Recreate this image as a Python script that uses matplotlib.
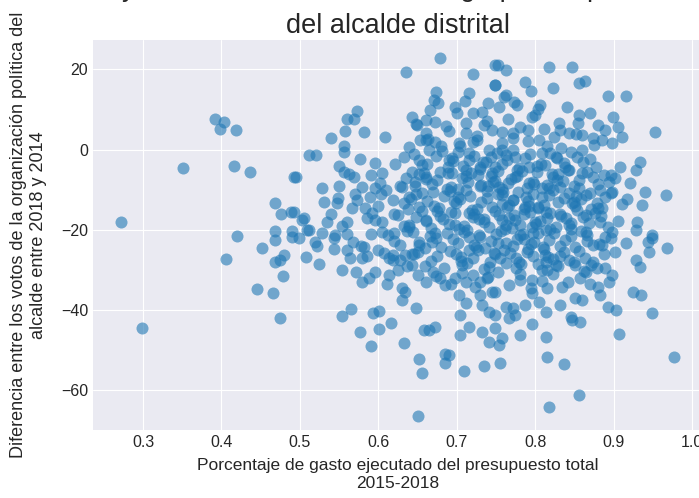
import numpy as np
import matplotlib
matplotlib.use("Agg")
from matplotlib import pyplot as plt

# Puntos: porcentaje de gasto ejecutado (x) y diferencia de votos (y)
gasto_aislados = [
    0.392, 0.403, 0.398, 0.419, 0.351, 0.416, 0.436, 0.493, 0.272, 0.468, 0.476, 0.489,
    0.420, 0.468, 0.490, 0.468, 0.451, 0.406, 0.480, 0.468, 0.474, 0.479, 0.445, 0.466,
    0.474, 0.299, 0.490,
]
votos_aislados = [
    7.6, 6.8, 5.1, 4.9, -4.6, -4.1, -5.6, -6.9, -18.1, -13.3, -16.1, -15.6,
    -21.5, -20.3, -20.3, -22.5, -24.5, -27.3, -26.3, -28.0, -27.5, -31.5, -34.7, -35.7,
    -41.9, -44.5, -21.8,
]

gasto_medio = [
    0.678, 0.635, 0.748, 0.721, 0.748, 0.674, 0.671, 0.676, 0.716, 0.666, 0.573, 0.569,
    0.560, 0.643, 0.649, 0.660, 0.672, 0.732, 0.720, 0.711, 0.558, 0.540, 0.582, 0.609,
    0.556, 0.556, 0.512, 0.521, 0.495, 0.528, 0.547, 0.550, 0.556, 0.577, 0.596, 0.569,
    0.590, 0.602, 0.605, 0.579, 0.573, 0.583, 0.595, 0.560, 0.503, 0.509, 0.493, 0.528,
    0.545, 0.592, 0.605, 0.639, 0.633, 0.630, 0.643, 0.653, 0.660, 0.672, 0.665, 0.652,
    0.658, 0.647, 0.669, 0.639, 0.652, 0.660, 0.639, 0.620, 0.690, 0.703, 0.711, 0.726,
    0.741, 0.716, 0.694, 0.711, 0.729, 0.745,
    0.540, 0.560, 0.585, 0.600, 0.610, 0.570, 0.530, 0.550, 0.590, 0.620, 0.635, 0.600,
    0.625, 0.645, 0.560, 0.505, 0.512, 0.522, 0.534, 0.543,
    0.553, 0.566, 0.578, 0.589, 0.604, 0.613, 0.627, 0.638, 0.571, 0.596, 0.621, 0.586,
    0.611, 0.563, 0.634, 0.548,
]
votos_medio = [
    22.8, 19.3, 21.0, 18.8, 16.1, 14.3, 12.3, 11.6, 14.1, 9.8, 9.6, 7.6,
    7.6, 8.1, 6.1, 7.3, 6.8, 9.3, 9.1, 6.6, 4.6, 2.9, 4.4, 3.1,
    0.9, -0.6, -1.4, -1.4, -6.9, -9.6, -13.3, -4.1, -5.6, -2.4, -3.4, -6.9,
    -6.4, -8.3, -5.9, -9.3, -12.6, -14.6, -9.6, -18.1, -17.6, -20.1, -15.6, -20.8,
    -21.3, -15.8, -18.1, 0.6, -1.9, -9.3, -5.6, 2.4, 2.4, 1.9, -0.1, -2.6,
    -5.9, -8.1, -10.6, -11.8, -14.3, -17.6, -19.3, -20.8, -2.6, 1.6, 4.1, 2.4,
    -0.1, -0.9, -5.9, -5.1, -4.4, -5.9,
    -16.0, -21.0, -17.0, -14.0, -10.0, -11.0, -13.0, -9.0, -21.0, -16.0, -7.0, -25.0,
    -30.0, -26.0, -25.0, -17.0, -20.0, -24.0, -18.0, -22.0,
    -19.0, -14.5, -24.0, -11.8, -20.5, -27.0, -9.0, -14.8, -30.5, -17.5, -3.5, -26.5,
    -33.5, -6.0, -35.5, -12.0,
]

gasto_derecha = [
    0.818, 0.847, 0.762, 0.752, 0.787, 0.822, 0.856, 0.863, 0.749, 0.892, 0.915, 0.762,
    0.773, 0.777, 0.754, 0.806, 0.796, 0.855, 0.899, 0.854, 0.953, 0.889, 0.911, 0.898,
    0.885, 0.873, 0.860, 0.843, 0.831, 0.824, 0.805, 0.790, 0.771, 0.758, 0.859, 0.933,
    0.928, 0.908, 0.920, 0.888, 0.896, 0.940, 0.966, 0.917, 0.936, 0.896, 0.870, 0.860,
    0.843, 0.856, 0.822, 0.831, 0.809, 0.930, 0.949, 0.928, 0.898, 0.882, 0.885, 0.864,
    0.847, 0.819, 0.787, 0.771, 0.754, 0.774, 0.792, 0.774, 0.758, 0.809, 0.826, 0.838,
    0.749, 0.758, 0.796, 0.843, 0.864,
    0.690, 0.700, 0.720, 0.735, 0.740, 0.765, 0.780, 0.800, 0.815, 0.830, 0.840, 0.870,
    0.880, 0.905, 0.760, 0.795, 0.710, 0.660, 0.680,
    0.663, 0.686, 0.704, 0.726, 0.739, 0.758, 0.772, 0.790, 0.811, 0.833, 0.852, 0.875,
    0.648, 0.697, 0.745, 0.803,
]
votos_derecha = [
    20.5, 20.5, 19.8, 21.0, 16.8, 15.3, 16.6, 17.1, 16.1, 13.3, 13.3, 13.6,
    11.8, 11.1, 10.6, 11.1, 8.1, 8.6, 8.1, 6.6, 4.4, 4.9, 3.1, 1.6,
    2.4, 2.9, 3.6, 4.1, 4.9, 3.1, 2.4, 4.9, 2.9, 4.4, -0.1, -3.1,
    -5.1, -4.4, -8.3, -6.4, -6.4, -10.6, -11.3, -12.3, -13.8, -10.8, -10.8, -5.9,
    -5.1, -7.6, -6.9, -9.3, -11.8, -18.1, -21.3, -20.1, -20.6, -18.1, -14.6, -16.3,
    -13.3, -15.8, -14.3, -12.6, -9.3, -6.9, -4.4, -1.9, -0.1, -0.9, -1.9, -4.4,
    -4.4, -17.6, -19.3, -18.8, -20.6,
    4.5, 9.0, 2.0, 6.0, 11.5, 7.5, 5.5, 8.5, 1.0, 6.5, 10.5, 9.0,
    6.0, 5.5, 13.0, 14.5, 12.0, 4.0, 1.0,
    2.6, 5.8, 0.8, 3.4, 7.2, 1.6, 4.2, 2.2, 5.0, 0.4, 3.8, 1.2,
    6.4, 10.6, 4.8, 10.0,
]

gasto_bajo = [
    0.651, 0.656, 0.652, 0.709, 0.735, 0.685, 0.690, 0.685, 0.591, 0.633, 0.577, 0.601,
    0.616, 0.553, 0.565, 0.593, 0.601, 0.648, 0.658, 0.665, 0.672, 0.630, 0.630, 0.579,
    0.588, 0.596, 0.554, 0.524, 0.508, 0.544, 0.519, 0.499, 0.564, 0.579, 0.567, 0.582,
    0.618, 0.614, 0.607, 0.634, 0.643, 0.652, 0.669, 0.685, 0.711, 0.704, 0.704, 0.716,
    0.732, 0.749, 0.732, 0.741, 0.703, 0.729, 0.745, 0.729, 0.741, 0.720, 0.698, 0.678,
    0.660,
    0.818, 0.856, 0.977, 0.837, 0.815, 0.813, 0.907, 0.949, 0.847, 0.857, 0.845, 0.796,
    0.780, 0.755, 0.754, 0.758, 0.767, 0.774, 0.787, 0.813, 0.831, 0.850, 0.860, 0.892,
    0.903, 0.882, 0.880, 0.924, 0.934, 0.968, 0.949, 0.943, 0.928, 0.933, 0.945, 0.902,
    0.898, 0.894, 0.834, 0.815, 0.796, 0.771, 0.762, 0.749, 0.796, 0.805, 0.864, 0.873,
    0.851, 0.826, 0.815, 0.749, 0.889, 0.885,
]
votos_bajo = [
    -66.4, -55.6, -52.2, -55.2, -53.9, -53.2, -51.2, -50.9, -48.9, -48.2, -45.5, -44.7,
    -43.2, -41.5, -39.7, -40.7, -40.2, -39.5, -45.0, -45.0, -44.2, -37.5, -34.5, -33.0,
    -32.0, -30.5, -30.0, -28.5, -26.8, -24.8, -23.0, -22.0, -27.0, -27.0, -23.0, -24.3,
    -27.5, -31.3, -25.8, -26.3, -28.8, -23.8, -30.5, -33.7, -38.2, -41.2, -46.2, -44.2,
    -45.5, -44.5, -38.7, -40.5, -36.2, -36.2, -35.5, -33.0, -48.0, -31.3, -32.0, -32.0,
    -33.0,
    -64.1, -61.1, -51.7, -53.4, -51.7, -46.7, -46.0, -40.7, -42.5, -43.0, -41.7, -43.5,
    -46.2, -53.2, -48.7, -47.0, -42.0, -41.2, -38.7, -40.5, -38.7, -37.0, -37.5, -39.2,
    -40.0, -36.2, -34.2, -35.5, -36.2, -24.5, -22.0, -23.0, -27.5, -29.3, -25.5, -25.5,
    -31.3, -33.0, -34.2, -34.5, -32.5, -39.5, -39.2, -41.2, -35.7, -38.0, -30.5, -28.0,
    -28.8, -28.8, -30.0, -35.5, -29.5, -23.8,
]

# Nucleo denso del grafico (0.64 - 0.92, -38 a 0)
gasto_nucleo = [
    0.645, 0.662, 0.681, 0.695, 0.708, 0.722, 0.737, 0.751, 0.764, 0.779, 0.793, 0.812, 0.828, 0.845, 0.861, 0.877,
    0.652, 0.668, 0.679, 0.693, 0.706, 0.718, 0.731, 0.744, 0.757, 0.769, 0.783, 0.797, 0.808, 0.821, 0.835, 0.849, 0.866, 0.880, 0.902,
    0.641, 0.655, 0.671, 0.684, 0.699, 0.711, 0.726, 0.739, 0.752, 0.766, 0.778, 0.791, 0.804, 0.817, 0.829, 0.843, 0.858, 0.871, 0.889, 0.911, 0.618, 0.603,
    0.625, 0.639, 0.656, 0.667, 0.682, 0.697, 0.709, 0.721, 0.734, 0.748, 0.761, 0.774, 0.786, 0.801, 0.813, 0.826, 0.839, 0.853, 0.868, 0.884, 0.905,
    0.612, 0.628, 0.644, 0.659, 0.673, 0.688, 0.702, 0.716, 0.729, 0.743, 0.756, 0.771, 0.784, 0.798, 0.811, 0.824, 0.838, 0.851, 0.866, 0.881, 0.896,
    0.618, 0.636, 0.651, 0.667, 0.683, 0.699, 0.713, 0.727, 0.741, 0.755, 0.768, 0.782, 0.797, 0.809, 0.822, 0.836, 0.849, 0.863, 0.878,
    0.674, 0.692, 0.707, 0.723, 0.738, 0.752, 0.767, 0.781, 0.794, 0.808, 0.823, 0.842, 0.857,
    0.655, 0.673, 0.689, 0.702, 0.715, 0.729, 0.744, 0.758, 0.771, 0.787, 0.802, 0.819, 0.836, 0.853, 0.870,
    0.646, 0.660, 0.675, 0.689, 0.702, 0.714, 0.727, 0.740, 0.753, 0.765, 0.776, 0.789, 0.802, 0.815, 0.829, 0.842, 0.856, 0.873, 0.894,
    0.632, 0.648, 0.662, 0.677, 0.691, 0.704, 0.717, 0.731, 0.745, 0.759, 0.772, 0.785, 0.797, 0.811, 0.823, 0.836, 0.851, 0.864, 0.879, 0.898,
    0.632, 0.648, 0.661, 0.675, 0.690, 0.703, 0.715, 0.728, 0.741, 0.754, 0.767, 0.780, 0.793, 0.806, 0.819, 0.832, 0.846, 0.861, 0.876, 0.893,
    0.620, 0.636, 0.652, 0.666, 0.680, 0.695, 0.709, 0.722, 0.736, 0.750, 0.763, 0.777, 0.791, 0.804, 0.817, 0.831, 0.845, 0.858, 0.873, 0.889,
    0.627, 0.643, 0.659, 0.675, 0.691, 0.706, 0.720, 0.734, 0.748, 0.762, 0.775, 0.789, 0.803, 0.816, 0.829, 0.843, 0.856, 0.871,
    0.694, 0.712, 0.733, 0.749, 0.763, 0.776, 0.792, 0.807, 0.701, 0.719, 0.738, 0.757, 0.773, 0.788, 0.803, 0.818,
    0.697, 0.716, 0.735, 0.753, 0.770, 0.785, 0.799, 0.814, 0.705, 0.724, 0.742, 0.760, 0.779, 0.795, 0.812,
    0.661, 0.678, 0.696, 0.713, 0.730, 0.747, 0.764, 0.781, 0.798, 0.815, 0.832, 0.849, 0.866, 0.883,
    0.668, 0.687, 0.705, 0.722, 0.740, 0.757, 0.775, 0.792, 0.810, 0.827, 0.845, 0.862, 0.880, 0.915,
    0.650, 0.672, 0.693, 0.711, 0.728, 0.746, 0.763, 0.780, 0.797, 0.814, 0.833, 0.852, 0.870, 0.887,
]
votos_nucleo = [
    -1.2, -3.5, -0.4, -2.8, -4.1, -1.7, -3.2, -0.8, -2.5, -4.6, -1.1, -3.8, -2.2, -0.5, -3.0, -4.4,
    -6.2, -8.7, -5.5, -9.4, -7.1, -5.8, -8.9, -6.6, -9.8, -7.4, -5.3, -8.2, -9.6, -6.0, -7.9, -9.1, -5.7, -8.5, -7.0,
    -12.4, -10.8, -14.1, -11.6, -13.3, -10.2, -14.7, -12.0, -11.1, -13.9, -10.5, -12.8, -14.4, -11.3, -13.0, -10.9, -12.2, -14.9, -11.8, -13.6, -12.5, -11.0,
    -16.3, -18.8, -15.4, -19.5, -17.2, -15.9, -19.1, -16.8, -18.0, -15.2, -19.8, -17.5, -16.1, -18.6, -15.6, -19.3, -17.0, -15.1, -18.3, -16.6, -17.7,
    -21.4, -23.8, -20.6, -24.5, -22.1, -20.9, -23.4, -24.9, -21.7, -22.9, -20.3, -24.1, -21.0, -23.1, -24.7, -20.8, -22.5, -24.2, -21.2, -23.6, -22.0,
    -26.2, -28.9, -25.5, -27.7, -29.6, -26.0, -28.3, -25.1, -29.2, -27.0, -25.8, -28.6, -26.6, -29.9, -27.3, -25.4, -28.0, -26.9, -29.4,
    -31.6, -33.4, -30.8, -34.2, -32.0, -30.4, -33.8, -31.1, -34.6, -32.7, -30.9, -33.1, -31.9,
    -3.9, -1.5, -4.3, -0.6, -2.7, -4.8, -1.9, -3.6, -0.2, -2.1, -4.0, -0.9, -3.3, -1.8, -2.4,
    -9.0, -6.9, -7.7, -5.9, -9.9, -8.0, -6.3, -9.2, -5.4, -8.4, -6.7, -9.7, -5.6, -8.8, -6.1, -5.2, -9.5, -6.8, -8.1,
    -13.4, -11.2, -12.9, -14.5, -10.4, -12.3, -11.5, -13.1, -14.2, -10.7, -12.6, -14.8, -11.0, -13.7, -10.1, -12.1, -14.0, -11.4, -13.2, -10.6,
    -19.0, -16.7, -17.9, -15.3, -18.5, -19.7, -15.8, -17.4, -19.4, -16.4, -17.1, -18.9, -15.5, -17.8, -19.9, -16.0, -18.2, -16.9, -15.7, -19.2,
    -22.8, -20.2, -23.0, -21.6, -24.4, -22.3, -20.5, -23.7, -24.6, -21.1, -23.3, -22.2, -24.8, -20.7, -22.6, -24.0, -21.5, -20.4, -23.9, -21.8,
    -27.4, -25.9, -29.1, -26.4, -25.2, -28.8, -27.1, -29.7, -26.1, -28.2, -29.5, -25.6, -28.4, -26.8, -29.0, -27.6, -25.3, -28.7,
    -2.0, -6.5, -3.1, -7.8, -1.4, -5.0, -8.3, -3.7, -11.9, -15.0, -10.3, -13.5, -16.2, -11.7, -14.6, -9.5,
    -18.7, -21.9, -17.3, -23.2, -19.6, -22.4, -18.1, -20.0, -26.7, -24.2, -28.1, -25.0, -27.9, -23.5, -26.3,
    -7.3, -16.6, -12.7, -20.1, -9.0, -25.7, -14.3, -21.4, -8.6, -17.0, -26.5, -13.1, -22.7, -10.2,
    -23.0, -9.8, -27.8, -16.0, -31.8, -11.4, -26.9, -14.0, -24.3, -7.5, -19.8, -30.2, -14.6, -23.3,
    -31.2, -20.8, -15.6, -33.0, -21.2, -8.1, -18.7, -32.5, -20.9, -28.0, -16.5, -11.6, -33.6, -26.0,
]

gasto = gasto_aislados + gasto_medio + gasto_derecha + gasto_bajo + gasto_nucleo
votos = votos_aislados + votos_medio + votos_derecha + votos_bajo + votos_nucleo

titulo = ("Relación entre el gasto ejecutado\n"
          "y diferencia de votos de la agrupación política\n"
          "del alcalde distrital")
etiqueta_x = "Porcentaje de gasto ejecutado del presupuesto total\n2015-2018"
etiqueta_y = ("Diferencia entre los votos de la organización política del\n"
              "alcalde entre 2018 y 2014")

plt.style.use("seaborn-v0_8-darkgrid")
plt.rcParams["font.family"] = ["Liberation Sans", "DejaVu Sans"]
plt.rcParams["text.color"] = "0.15"
plt.rcParams["axes.labelcolor"] = "0.15"
plt.rcParams["xtick.color"] = "0.15"
plt.rcParams["ytick.color"] = "0.15"

fig = plt.figure(figsize=(6.99, 4.98), dpi=100)
ax = fig.add_axes([0.133, 0.1365, 0.872, 0.7831])

ax.scatter(gasto, votos, s=75, color="#1f77b4", alpha=0.6, linewidths=0)

ax.set_xlim(0.2362, 1.013)
ax.set_ylim(-69.86, 27.27)
ax.set_xticks([0.3, 0.4, 0.5, 0.6, 0.7, 0.8, 0.9, 1.0])
ax.set_yticks([-60, -40, -20, 0, 20])
ax.tick_params(labelsize=11.5)

ax.set_title(titulo, fontsize=19.5, pad=5, linespacing=1.55)
ax.set_xlabel(etiqueta_x, fontsize=12.5, labelpad=6)
ax.set_ylabel(etiqueta_y, fontsize=13)
ax.yaxis.set_label_coords(-0.0755, 0.5)

plt.savefig("out.png", dpi=100)
